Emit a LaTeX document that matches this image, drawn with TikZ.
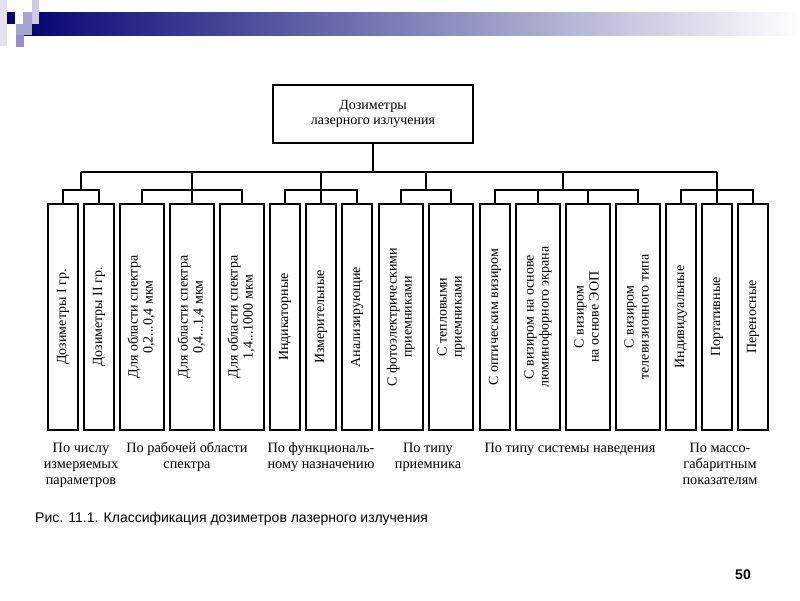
\documentclass[tikz,border=0pt]{standalone}
\usepackage{fontspec}
\usepackage{graphicx}
\usepackage{xcolor}
\setmainfont{Liberation Serif}
\newfontfamily\capfont{Liberation Sans}
\usepackage{tikz}
\usetikzlibrary{calc}
\definecolor{navy}{RGB}{5,5,115}
\definecolor{sqpale}{RGB}{225,225,240}
\definecolor{sqlight}{RGB}{205,205,232}
\definecolor{sqmid}{RGB}{165,165,210}
\definecolor{sqdark}{RGB}{145,145,200}
\newcommand{\boxfont}{\fontsize{14}{15}\selectfont}
\newcommand{\grpfont}{\fontsize{14.3}{16}\selectfont}
\newcommand{\vlabel}[1]{\rotatebox{90}{\begin{tabular}{@{}c@{}}#1\end{tabular}}}
\newcommand{\glabel}[1]{\begin{tabular}{@{}c@{}}#1\end{tabular}}
\tikzset{
  topbox/.style={
    draw,
    line width=1.2pt,
    minimum width=200,
    minimum height=58,
    inner sep=0,
    align=center,
    font=\boxfont
  },
  nbox/.style={
    draw,
    line width=1.2pt,
    minimum width=30,
    minimum height=226,
    inner sep=0,
    font=\boxfont
  },
  wbox/.style={
    nbox,
    minimum width=44
  },
  grplabel/.style={
    anchor=north,
    inner sep=0,
    font=\grpfont
  },
  tree/.style={
    line width=1.2pt
  }
}

\begin{document}
\begin{tikzpicture}[x=1pt,y=-1pt]
        \useasboundingbox (0,0) rectangle (800,600);
        % header bar
        \shade[left color=navy, right color=white] (24,12) rectangle (800,35);
        \fill[sqpale] (0,0) rectangle (7,46);
        \fill[navy] (7,12) rectangle (15,24);
        \fill[sqmid] (23,12) rectangle (32,24);
        \fill[sqlight] (32,0) rectangle (39,24);
        \fill[sqmid] (16,24) rectangle (32,35);
        \fill[sqdark] (16,35) rectangle (24,47);
        %
        \node[topbox] (top) at (373,114) {Дозиметры\\лазерного излучения};
        %
        \node[nbox] (b1) at (63,317) {\vlabel{Дозиметры I гр.}};
        \node[nbox] (b2) at (99,317) {\vlabel{Дозиметры II гр.}};
        \node[wbox] (b3) at (142,317) {\vlabel{Для области спектра\\0,2...0,4 мкм}};
        \node[wbox] (b4) at (192,317) {\vlabel{Для области спектра\\0,4...1,4 мкм}};
        \node[wbox] (b5) at (242,317) {\vlabel{Для области спектра\\1,4...1000 мкм}};
        \node[nbox] (b6) at (285,317) {\vlabel{Индикаторные}};
        \node[nbox] (b7) at (321,317) {\vlabel{Измерительные}};
        \node[nbox] (b8) at (357,317) {\vlabel{Анализирующие}};
        \node[wbox] (b9) at (401,317) {\vlabel{С фотоэлектрическими\\приемниками}};
        \node[wbox] (b10) at (451,317) {\vlabel{С тепловыми\\приемниками}};
        \node[nbox] (b11) at (495,317) {\vlabel{С оптическим визиром}};
        \node[wbox] (b12) at (538,317) {\vlabel{С визиром на основе\\люминофорного экрана}};
        \node[wbox] (b13) at (588,317) {\vlabel{С визиром\\на основе ЭОП}};
        \node[wbox] (b14) at (638,317) {\vlabel{С визиром\\телевизионного типа}};
        \node[nbox] (b15) at (681,317) {\vlabel{Индивидуальные}};
        \node[nbox] (b16) at (717,317) {\vlabel{Портативные}};
        \node[nbox] (b17) at (753,317) {\vlabel{Переносные}};
        %
        \coordinate (g0) at (373,172);
        \coordinate (g1) at (81,172);
        \coordinate (g2) at (192,172);
        \coordinate (g3) at (321,172);
        \coordinate (g4) at (426,172);
        \coordinate (g5) at (563,172);
        \coordinate (g6) at (717,172);
        \coordinate (s1) at (81,190);
        \coordinate (s2) at (192,190);
        \coordinate (s3) at (321,190);
        \coordinate (s4) at (426,190);
        \coordinate (s5) at (563,190);
        \coordinate (s6) at (717,190);
        %
        \draw[tree] (top.south) -- (g0);
        \draw[tree] (g1) -- (g6);
        \draw[tree] (g1) -- (s1);
        \draw[tree] (b1.north) |- (s1) -| (b2.north);
        \draw[tree] (g2) -- (b4.north);
        \draw[tree] (b3.north) |- (s2) -| (b5.north);
        \draw[tree] (g3) -- (b7.north);
        \draw[tree] (b6.north) |- (s3) -| (b8.north);
        \draw[tree] (g4) -- (s4);
        \draw[tree] (b9.north) |- (s4) -| (b10.north);
        \draw[tree] (g5) -- (s5);
        \draw[tree] (b11.north) |- (s5) -| (b14.north);
        \draw[tree] (b12.north) -- (b12.north |- s5);
        \draw[tree] (b13.north) -- (b13.north |- s5);
        \draw[tree] (g6) -- (b16.north);
        \draw[tree] (b15.north) |- (s6) -| (b17.north);
        %
        \node[grplabel] (l1) at (81,441) {\glabel{По числу\\измеряемых\\параметров}};
        \node[grplabel] (l2) at (187,441) {\glabel{По рабочей области\\спектра}};
        \node[grplabel] (l3) at (321,441) {\glabel{По функциональ-\\ному назначению}};
        \node[grplabel] (l4) at (428,441) {\glabel{По типу\\приемника}};
        \node[grplabel] (l5) at (570,441) {\glabel{По типу системы наведения}};
        \node[grplabel] (l6) at (720,441) {\glabel{По массо-\\габаритным\\показателям}};
        %
        \node[anchor=west, inner sep=0, font=\capfont\fontsize{14}{16}\selectfont] (cap) at (35,519) {Рис. 11.1. Классификация дозиметров лазерного излучения};
        \node[inner sep=0, font=\capfont\bfseries\fontsize{14}{16}\selectfont] (pg) at (743,575) {50};
    \end{tikzpicture}
\end{document}
